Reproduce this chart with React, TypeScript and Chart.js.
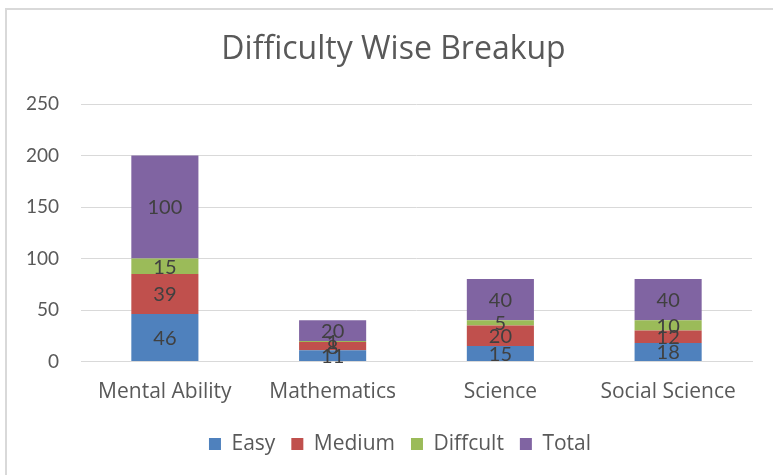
import React, { useEffect, useRef } from "react";
import { Chart, registerables } from "chart.js";

Chart.register(...registerables);

const categories = ["Mental Ability", "Mathematics", "Science", "Social Science"];
const easy = [46, 11, 15, 18];
const medium = [39, 8, 20, 12];
const difficult = [15, 1, 5, 10];
const total = [100, 20, 40, 40];
const yTicks = [0, 50, 100, 150, 200, 250];

const NUMFONT = "Lato, 'Liberation Sans', sans-serif";
const TXTFONT = "'Open Sans', 'Noto Sans', sans-serif";

const valueLabels = {
  id: "valueLabels",
  afterDatasetsDraw(chart: any) {
    const ctx = chart.ctx;
    ctx.save();
    ctx.font = `20px ${NUMFONT}`;
    ctx.fillStyle = "#404040";
    ctx.textAlign = "center";
    ctx.textBaseline = "middle";
    chart.data.datasets.forEach((ds: any, i: number) => {
      const meta = chart.getDatasetMeta(i);
      meta.data.forEach((el: any, j: number) => {
        const v = ds.data[j];
        const y = (el.y + el.base) / 2;
        ctx.fillText(String(v), el.x, y + 1);
      });
    });
    ctx.restore();
  },
};

// The chart frame in the reference extends past the right edge of the picture,
// so the title and legend are centred on that wider frame.
const shiftBlocks = {
  id: "shiftBlocks",
  afterLayout(chart: any) {
    if (chart.titleBlock) {
      chart.titleBlock.left = 5;
      chart.titleBlock.right = 782;
    }
    if (chart.legend) {
      chart.legend.left = 20;
      chart.legend.right = 780;
    }
  },
};

export default function App() {
  const ref = useRef<HTMLCanvasElement>(null);
  useEffect(() => {
    const chart = new Chart(ref.current!, {
      type: "bar",
      data: {
        labels: categories,
        datasets: [
          { label: "Easy", data: easy, backgroundColor: "#4F81BD" },
          { label: "Medium", data: medium, backgroundColor: "#C0504D" },
          { label: "Diffcult", data: difficult, backgroundColor: "#9BBB59" },
          { label: "Total", data: total, backgroundColor: "#8064A2" },
        ],
      },
      options: {
        animation: false,
        responsive: false,
        events: [],
        layout: { padding: { left: 6, right: 21, top: 8, bottom: 10.5 } },
        datasets: { bar: { barPercentage: 0.4, categoryPercentage: 1 } } as any,
        plugins: {
          title: {
            display: true,
            text: "Difficulty Wise Breakup",
            color: "#595959",
            font: { family: TXTFONT, size: 32, weight: "normal" as any },
            padding: { top: 22.8, bottom: 34.8 },
          },
          legend: {
            position: "bottom",
            labels: {
              color: "#595959",
              font: { family: TXTFONT, size: 21 },
              boxWidth: 12,
              boxHeight: 12,
              padding: 16,
            },
          },
          tooltip: { enabled: false },
        },
        scales: {
          x: {
            stacked: true,
            grid: { display: false, drawTicks: false },
            border: { color: "#d9d9d9", width: 1 },
            ticks: { color: "#595959", font: { family: TXTFONT, size: 21 }, padding: 18 },
            afterFit(scale: any) {
              scale.height = 56;
            },
          },
          y: {
            stacked: true,
            min: 0,
            max: 250,
            afterBuildTicks(scale: any) {
              scale.ticks = yTicks.map((v) => ({ value: v }));
            },
            afterFit(scale: any) {
              scale.width = 75;
            },
            grid: { color: "#d9d9d9", drawTicks: false },
            border: { display: false },
            ticks: { color: "#595959", font: { family: NUMFONT, size: 19 }, padding: 22 },
          },
        },
      },
      plugins: [valueLabels, shiftBlocks],
    });
    return () => chart.destroy();
  }, []);
  return (
    <div style={{ position: "fixed", left: 0, top: 0, width: 773, height: 475, background: "#fff" }}>
      <div
        style={{
          position: "absolute",
          left: 5,
          top: 8,
          right: 0,
          bottom: 0,
          borderLeft: "2px solid #d9d9d9",
          borderTop: "2px solid #d9d9d9",
        }}
      />
      <canvas ref={ref} width={773} height={475} style={{ position: "absolute", left: 0, top: 0 }} />
    </div>
  );
}
